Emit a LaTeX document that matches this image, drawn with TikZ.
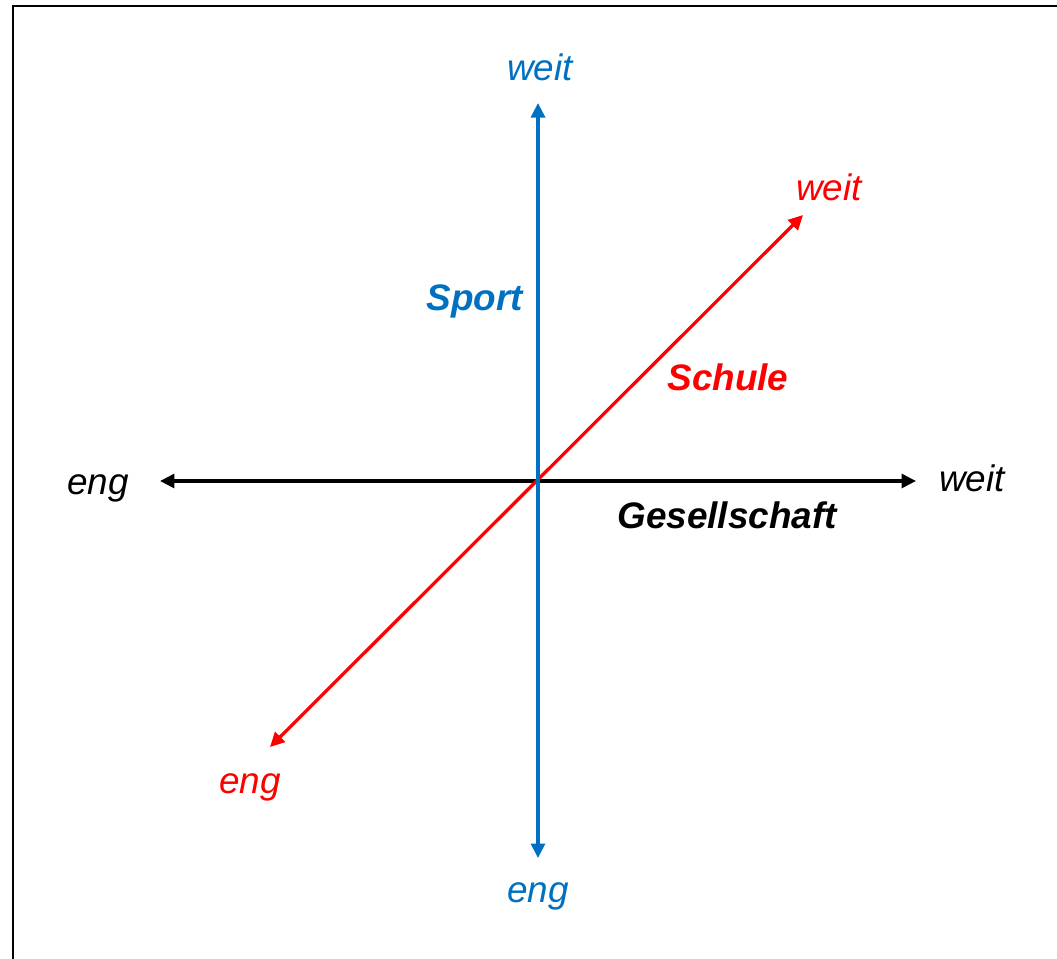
\documentclass[tikz,border=0pt]{standalone}
\usepackage{fontspec}
\setmainfont{Liberation Sans}
\usetikzlibrary{arrows.meta, positioning}
\definecolor{sportblau}{RGB}{0, 112, 192}
\definecolor{schulrot}{RGB}{255, 0, 0}
\tikzset{
  rahmen/.style={
    draw=black,
    line width=0.04cm
  },
  achse/.style={
    {Triangle[length=0.29cm, width=0.28cm]}-{Triangle[length=0.29cm, width=0.28cm]},
    line width=0.065cm
  },
  ende/.style={
    font=\fontsize{21}{25}\selectfont\itshape,
    inner sep=0pt
  },
  titel/.style={
    font=\fontsize{21}{25}\selectfont\bfseries\itshape,
    inner sep=0pt
  }
}

\begin{document}
\begin{tikzpicture}[x=0.02cm, y=-0.02cm]
  \useasboundingbox (0,0) rectangle (1057,958);
  \draw[rahmen] (13,6) rectangle (1090,990);

  % Achsen
  \coordinate (o) at (538,481);
  \coordinate (ges eng) at (160,481);
  \coordinate (ges weit) at (916,481);
  \coordinate (schule eng) at (270,747);
  \coordinate (schule weit) at (803,215);
  \coordinate (sport eng) at (538,858);
  \coordinate (sport weit) at (538,103);

  \draw[achse, draw=black, fill=black] (ges eng) -- (ges weit);
  \draw[achse, draw=schulrot, fill=schulrot] (schule eng) -- (schule weit);
  \draw[achse, draw=sportblau, fill=sportblau] (sport eng) -- (sport weit);

  % Beschriftung
  \node[ende] (l ges eng) at (98,488) {eng};
  \node[ende] (l ges weit) at (972,478) {weit};
  \node[titel] (l ges) at (727,515) {Gesellschaft};

  \node[ende, text=schulrot] (l schule eng) at (250,787) {eng};
  \node[ende, text=schulrot] (l schule weit) at (829,187) {weit};
  \node[titel, text=schulrot] (l schule) at (728,377) {Schule};

  \node[ende, text=sportblau] (l sport eng) at (538,896) {eng};
  \node[ende, text=sportblau] (l sport weit) at (540,67) {weit};
  \node[titel, text=sportblau] (l sport) at (475,301) {Sport};
\end{tikzpicture}
\end{document}
